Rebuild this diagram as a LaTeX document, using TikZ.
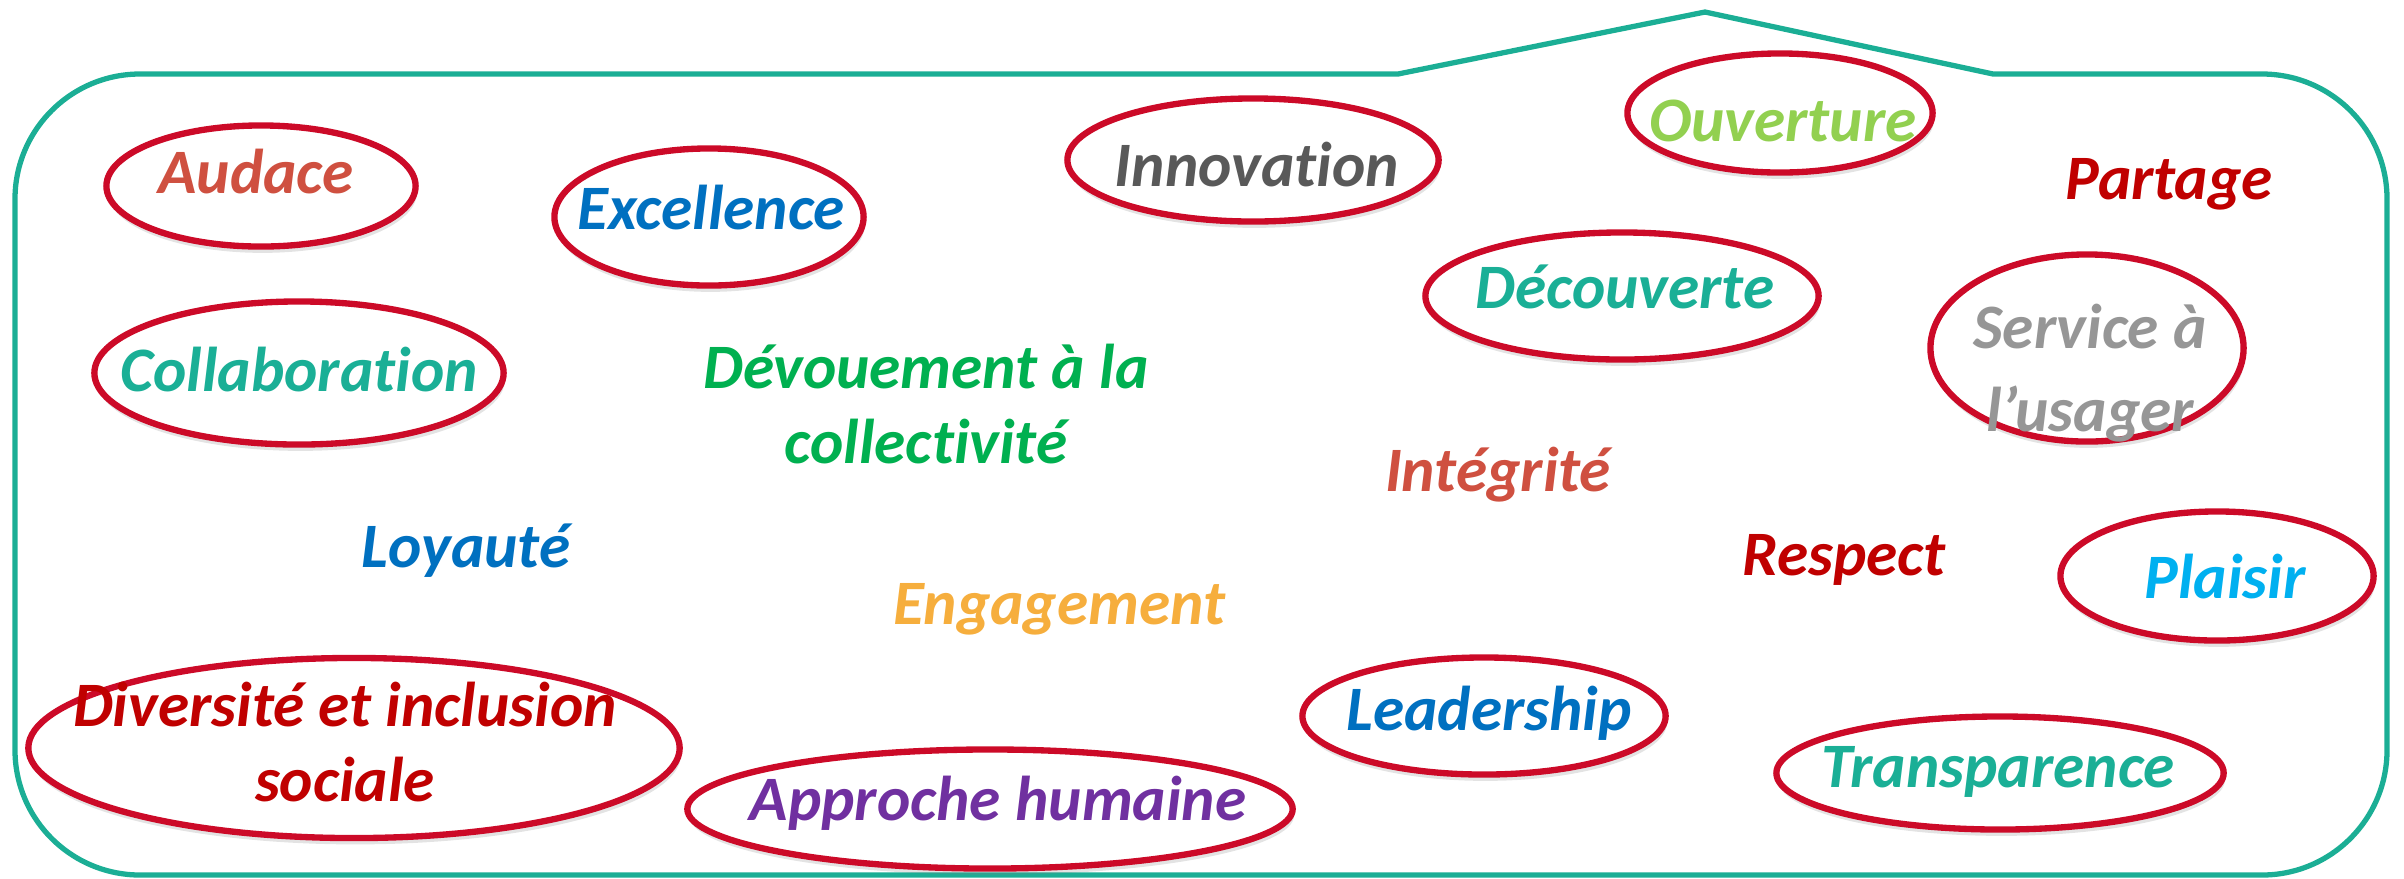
\documentclass[tikz,border=0pt]{standalone}
\usepackage{fontspec}
\setmainfont{Carlito}
\newfontfamily\valfont{Carlito}[Ligatures=NoCommon]
\usetikzlibrary{shapes.geometric,shadows}
\definecolor{framecol}{HTML}{1BAE95}
\definecolor{ovalred}{HTML}{CC0A28}
\definecolor{cAud}{HTML}{CF5040}
\definecolor{cBlue}{HTML}{0070C0}
\definecolor{cGray}{HTML}{595959}
\definecolor{cLgreen}{HTML}{92D050}
\definecolor{cDred}{HTML}{C00000}
\definecolor{cTeal}{HTML}{1AAF96}
\definecolor{cSilver}{HTML}{969696}
\definecolor{cGreen}{HTML}{00B050}
\definecolor{cSky}{HTML}{00B0F0}
\definecolor{cOrange}{HTML}{F6AE3D}
\definecolor{cPurple}{HTML}{7030A0}
\tikzset{
  frameline/.style={draw=framecol, line width=1.5pt, line join=miter},
  oval/.style={ellipse, draw=ovalred, line width=1.8pt, fill=white, inner sep=0pt, outer sep=0pt,
    drop shadow={opacity=0.22, shadow xshift=0.4pt, shadow yshift=-1.8pt}},
  word/.style={font=\valfont\bfseries\itshape\fontsize{18}{21.5}\selectfont, inner sep=0pt,
    text height=11.5pt, text depth=0pt},
  words/.style={font=\valfont\bfseries\itshape\fontsize{18}{21.5}\selectfont, inner sep=0pt, align=center},
}
\begin{document}
\begin{tikzpicture}[x=0.01cm,y=-0.01cm]
\useasboundingbox (0,0) rectangle (2404,878);
% outer frame
\draw[frameline] (140,74) -- (1398,74) -- (1705,12) -- (1993,74) -- (2262,74)
  .. controls (2331,74) and (2387,130) .. (2387,199) -- (2387,750)
  .. controls (2387,819) and (2331,875) .. (2262,875) -- (140,875)
  .. controls (71,875) and (15,819) .. (15,750) -- (15,199)
  .. controls (15,130) and (71,74) .. (140,74) -- cycle;

% ovals with words
\node[oval, minimum width=3.09cm, minimum height=1.21cm,
  label={[word, text=cAud, xshift=-0.05cm, yshift=0.13cm]center:Audace}] (audace) at (261,186) {};
\node[oval, minimum width=3.09cm, minimum height=1.37cm,
  label={[word, text=cBlue, xshift=0.02cm, yshift=0.08cm]center:Excellence}] (excellence) at (709,217) {};
\node[oval, minimum width=3.71cm, minimum height=1.23cm,
  label={[word, text=cGray, xshift=0.04cm, yshift=-0.06cm]center:Innovation}] (innovation) at (1253,160) {};
\node[oval, minimum width=3.05cm, minimum height=1.19cm,
  label={[word, text=cLgreen, xshift=0.03cm, yshift=-0.08cm]center:Ouverture}] (ouverture) at (1780,113) {};
\node[oval, minimum width=3.93cm, minimum height=1.27cm,
  label={[word, text=cTeal, xshift=0.03cm, yshift=0.08cm]center:Découverte}] (decouverte) at (1622,296) {};
\node[oval, minimum width=3.13cm, minimum height=1.87cm,
  label={[words, text=cSilver, xshift=0.03cm, yshift=-0.25cm, font=\valfont\bfseries\itshape\fontsize{18}{23.5}\selectfont]center:Service à\\l’usager}] (service) at (2087,348) {};
\node[oval, minimum width=4.09cm, minimum height=1.43cm,
  label={[word, text=cTeal, xshift=0cm, yshift=0.02cm]center:Collaboration}] (collaboration) at (299,373) {};
\node[oval, minimum width=3.13cm, minimum height=1.29cm,
  label={[word, text=cSky, xshift=0.08cm, yshift=-0.02cm]center:Plaisir}] (plaisir) at (2217,576) {};
\node[oval, minimum width=6.51cm, minimum height=1.80cm,
  label={[words, text=cDred, xshift=-0.09cm, yshift=0.06cm]center:Diversité et inclusion\\sociale}] (diversite) at (354,748) {};
\node[oval, minimum width=6.05cm, minimum height=1.19cm,
  label={[word, text=cPurple, xshift=0.08cm, yshift=0.09cm]center:Approche humaine}] (approche) at (990,809) {};
\node[oval, minimum width=3.63cm, minimum height=1.17cm,
  label={[word, text=cBlue, xshift=0.05cm, yshift=0.06cm]center:Leadership}] (leadership) at (1484,716) {};
\node[oval, minimum width=4.47cm, minimum height=1.13cm,
  label={[word, text=cTeal, xshift=-0.02cm, yshift=0.06cm]center:Transparence}] (transparence) at (2000,773) {};

% free words
\node[word, text=cDred] (partage) at (2169,179) {Partage};
\node[words, text=cGreen] (devouement) at (926,404) {Dévouement à la\\collectivité};
\node[word, text=cAud] (integrite) at (1498,471) {Intégrité};
\node[word, text=cBlue] (loyaute) at (466,547) {Loyauté};
\node[word, text=cDred] (respect) at (1844,555) {Respect};
\node[word, text=cOrange] (engagement) at (1059,604) {Engagement};
\end{tikzpicture}
\end{document}
